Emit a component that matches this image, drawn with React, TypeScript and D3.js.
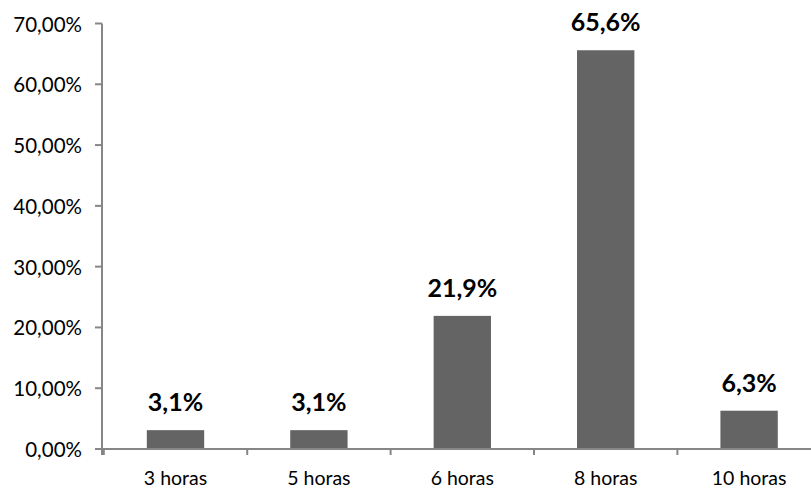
import React from "react";
import * as d3 from "d3";

const categories = ["3 horas", "5 horas", "6 horas", "8 horas", "10 horas"];
const values = [3.1, 3.1, 21.9, 65.6, 6.3];
const yTicks = [0, 10, 20, 30, 40, 50, 60, 70];

const W = 811;
const H = 490;
const FONT = "Lato, 'Open Sans', sans-serif";

export default function App() {
  const x0 = 103.8;
  const band = 143.4;
  const x = d3
    .scaleBand<string>()
    .domain(categories)
    .range([x0, x0 + band * categories.length])
    .paddingInner(0.6)
    .paddingOuter(0.3);
  const y = d3.scaleLinear().domain([0, 70]).range([449, 23.5]);
  const axisColor = "#868686";
  const tickEdges = categories.map((_, i) => x0 + band * i).concat([x0 + band * categories.length]);

  return (
    <svg
      width={W}
      height={H}
      style={{ position: "fixed", left: 0, top: 0, background: "#fff" }}
    >
      <rect x={0} y={0} width={W} height={H} fill="#fff" />
      {categories.map((c, i) => (
        <rect
          key={c}
          x={x(c)!}
          y={y(values[i])}
          width={x.bandwidth()}
          height={y(0) - y(values[i])}
          fill="#646464"
        />
      ))}
      <line x1={102} x2={102} y1={y(70)} y2={455} stroke={axisColor} strokeWidth={2} />
      {yTicks.map((t) => (
        <g key={t}>
          <line x1={95} x2={102} y1={y(t)} y2={y(t)} stroke={axisColor} strokeWidth={2} />
          <text
            x={82}
            y={y(t)}
            textAnchor="end"
            dominantBaseline="central"
            fontFamily={FONT}
            fontSize={20.5}
            fill="#000"
          >
            {t.toFixed(2).replace(".", ",") + "%"}
          </text>
        </g>
      ))}
      <line x1={95} x2={W} y1={y(0)} y2={y(0)} stroke={axisColor} strokeWidth={2} />
      {tickEdges.map((e, i) => (
        <line key={i} x1={e} x2={e} y1={y(0)} y2={455} stroke={axisColor} strokeWidth={2} />
      ))}
      {categories.map((c) => (
        <text
          key={c}
          x={x(c)! + x.bandwidth() / 2}
          y={485}
          textAnchor="middle"
          fontFamily={FONT}
          fontSize={19.5}
          fill="#000"
        >
          {c}
        </text>
      ))}
      {categories.map((c, i) => (
        <text
          key={c}
          x={x(c)! + x.bandwidth() / 2}
          y={y(values[i]) - 19}
          textAnchor="middle"
          fontFamily={FONT}
          fontWeight="bold"
          fontSize={25}
          fill="#000"
        >
          {values[i].toFixed(1).replace(".", ",") + "%"}
        </text>
      ))}
    </svg>
  );
}
